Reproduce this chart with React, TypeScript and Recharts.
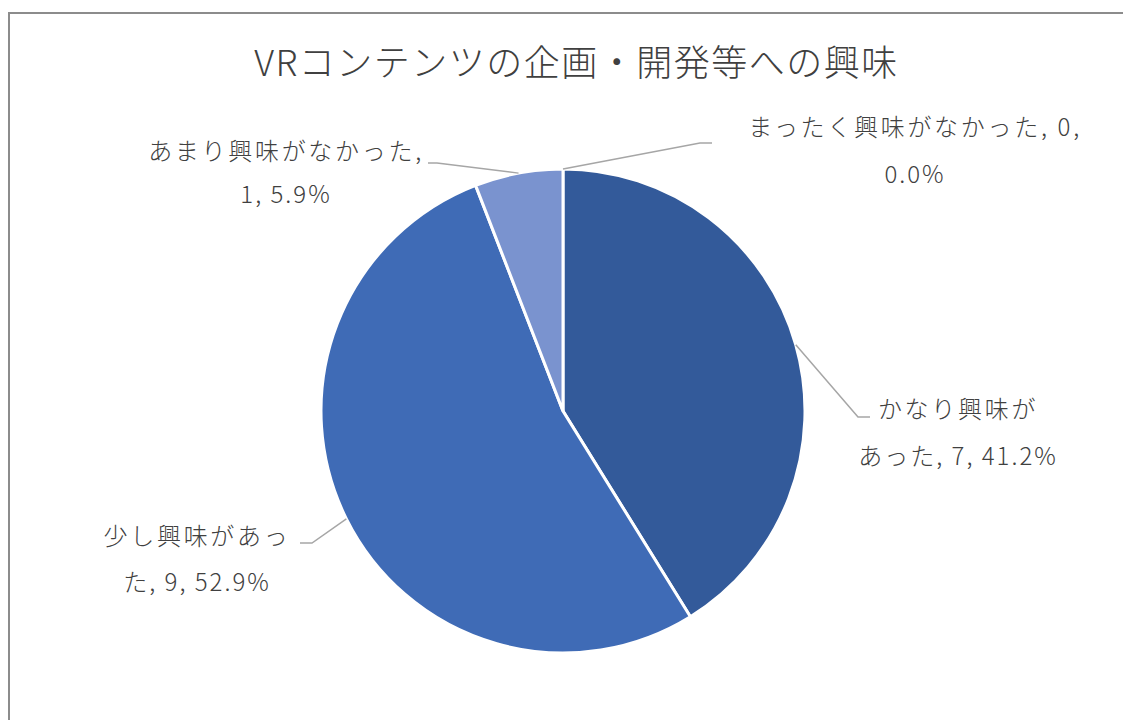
import { PieChart, Pie, Cell } from "recharts";

const categories = [
  "かなり興味があった",
  "少し興味があった",
  "あまり興味がなかった",
  "まったく興味がなかった",
];
const counts = [7, 9, 1, 0];
const sliceColors = ["#335A9A", "#3F6BB6", "#7A93CF", "#A9B9E0"];

const TITLE = "VRコンテンツの企画・開発等への興味";

// where Excel wraps each label, and where the label sits relative to pie centre
const labelLayout = [
  { split: 6, elbow: [295, 6], tail: 307, textX: 395, base: [7, 54] },
  { split: 7, elbow: [-251, 132], tail: -263, textX: -366, base: [134, 180] },
  { split: 11, elbow: [-126, -248], tail: -135, textX: -277, base: [-251, -208] },
  { split: 15, elbow: [137, -268], tail: 149, textX: 352, base: [-275, -228] },
];

const data = categories.map((name, i) => ({ name, value: counts[i] }));

const RADIAN = Math.PI / 180;
const TEXT = "#404040";
const FONT = "'Noto Sans CJK JP', 'Noto Sans', sans-serif";

function renderLabel(props: any) {
  const { cx, cy, midAngle, outerRadius, index, name, value, percent } = props;
  const lay = labelLayout[index];
  if (!lay) return null;
  const sx = cx + outerRadius * Math.cos(-midAngle * RADIAN);
  const sy = cy + outerRadius * Math.sin(-midAngle * RADIAN);
  const ex = cx + lay.elbow[0];
  const ey = cy + lay.elbow[1];
  const tx = cx + lay.tail;
  const full = `${name}, ${value}, ${(percent * 100).toFixed(1)}%`;
  const line1 = full.slice(0, lay.split);
  const line2 = full.slice(lay.split).trim();
  return (
    <g key={`lbl-${index}`}>
      <polyline
        points={`${sx},${sy} ${ex},${ey} ${tx},${ey}`}
        fill="none"
        stroke="#A6A6A6"
        strokeWidth={1.5}
      />
      <text
        x={cx + lay.textX}
        y={cy + lay.base[0]}
        textAnchor="middle"
        fill={TEXT}
        fontSize={24}
        fontFamily={FONT}
        fontWeight={300}
        letterSpacing={2.7}
      >
        {line1}
      </text>
      <text
        x={cx + lay.textX}
        y={cy + lay.base[1]}
        textAnchor="middle"
        fill={TEXT}
        fontSize={24}
        fontFamily={FONT}
        fontWeight={300}
        letterSpacing={2}
      >
        {line2}
      </text>
    </g>
  );
}

export default function App() {
  return (
    <div style={{ position: "relative", width: 1123, height: 712, overflow: "hidden", background: "#fff" }}>
      <div
        style={{
          position: "absolute",
          left: 0,
          top: 4,
          width: 1300,
          height: 900,
          border: "2px solid #8C8C8C",
          boxSizing: "border-box",
        }}
      />
      <div
        style={{
          position: "absolute",
          left: 0,
          top: 34,
          width: 1123,
          paddingLeft: 14,
          boxSizing: "border-box",
          textAlign: "center",
          fontFamily: FONT,
          fontSize: 36,
          lineHeight: "36px",
          fontWeight: 300,
          letterSpacing: 1.5,
          color: TEXT,
        }}
      >
        {TITLE}
      </div>
      <div style={{ position: "absolute", left: 0, top: 0 }}>
        <PieChart width={1123} height={712} margin={{ top: 0, right: 0, bottom: 0, left: 0 }}>
          <Pie
            data={data}
            dataKey="value"
            nameKey="name"
            cx={555}
            cy={403}
            outerRadius={242}
            startAngle={90}
            endAngle={-270}
            stroke="#fff"
            strokeWidth={3}
            label={renderLabel}
            labelLine={false}
            isAnimationActive={false}
          >
            {data.map((entry, i) => (
              <Cell key={`cell-${entry.name}`} fill={sliceColors[i]} />
            ))}
          </Pie>
        </PieChart>
      </div>
    </div>
  );
}
